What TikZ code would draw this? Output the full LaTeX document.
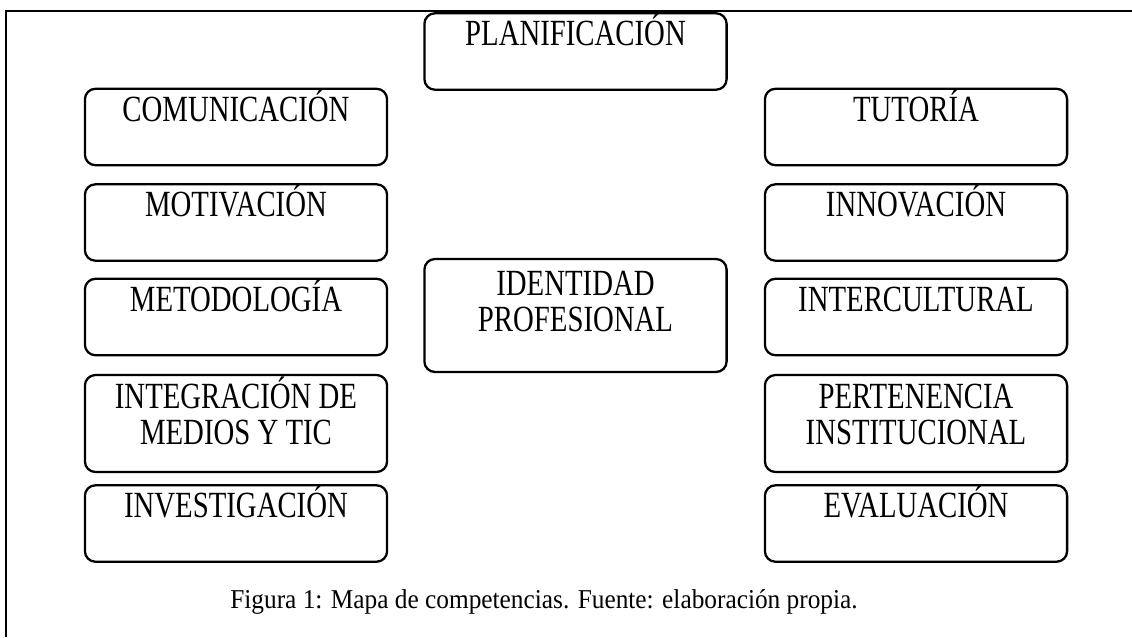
\documentclass[tikz,border=0pt]{standalone}
\usepackage{fontspec}
\setmainfont{Liberation Serif}
\newfontfamily\compfont{Liberation Serif}[FakeStretch=0.78]
\newfontfamily\captfont{Liberation Serif}[FakeStretch=0.93]

\tikzset{
	comp/.style = {draw, line width = 1.3pt, rounded corners = 6pt, inner sep = 0pt,
		minimum width = 172pt, font = \compfont\fontsize{21}{21}\selectfont,
		text height = 18.5pt, text depth = 25pt},
	comptwo/.style = {comp, align = center, text height = 39.8pt, text depth = 15.4pt},
}

\begin{document}
\begin{tikzpicture}[x = 0.02cm, y = -0.02cm]
\useasboundingbox (0,0) rectangle (1132,637);
\draw[line width = 1.1pt] (6,637) -- (6,11) -- (1132,11);

% centre
\node[comp] (plan) at (575.5,51.5) {PLANIFICACIÓN};
\node[comptwo, text height = 41.5pt, text depth = 22.8pt] (ident) at (575.5,315.5) {IDENTIDAD\\PROFESIONAL};

% left column
\node[comp] (comu) at (236,127) {COMUNICACIÓN};
\node[comp] (moti) at (236,222.5) {MOTIVACIÓN};
\node[comp] (meto) at (236,317) {METODOLOGÍA};
\node[comptwo] (inte) at (236,423.5) {INTEGRACIÓN DE\\MEDIOS Y TIC};
\node[comp] (inve) at (236,523.5) {INVESTIGACIÓN};

% right column
\node[comp] (tuto) at (916,127) {TUTORÍA};
\node[comp] (inno) at (916,222.5) {INNOVACIÓN};
\node[comp] (intc) at (916,317) {INTERCULTURAL};
\node[comptwo] (pert) at (916,423.5) {PERTENENCIA\\INSTITUCIONAL};
\node[comp] (eval) at (916,523.5) {EVALUACIÓN};

\node[anchor = base, font = \captfont\fontsize{15.5}{18}\selectfont] (capt) at (544,608) {Figura 1: Mapa de competencias. Fuente: elaboración propia.};
\end{tikzpicture}
\end{document}
